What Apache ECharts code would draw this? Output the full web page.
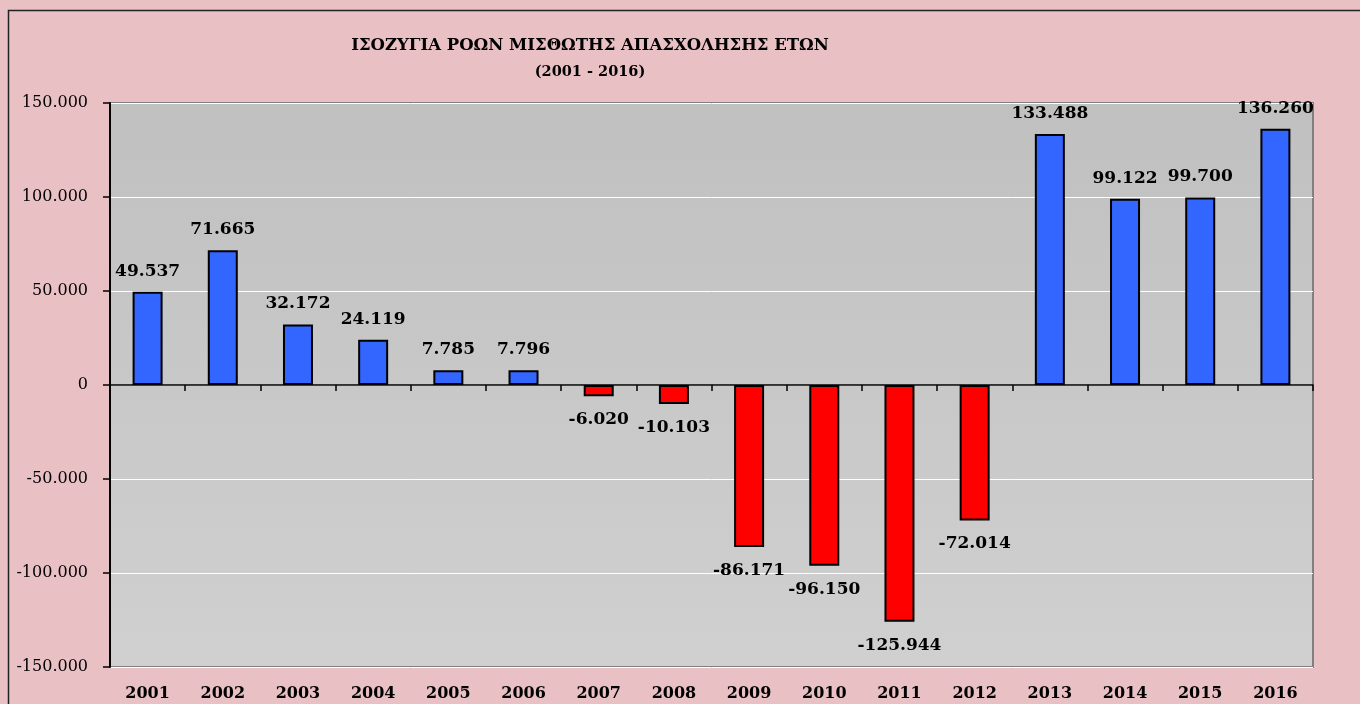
<!DOCTYPE html>
<html>
<head>
<meta charset="utf-8">
<script src="https://cdn.jsdelivr.net/npm/echarts@6/dist/echarts.min.js"></script>
<style>
html,body{margin:0;padding:0;background:#eac3c6;overflow:hidden;}
#chart{width:1360px;height:704px;}
</style>
</head>
<body>
<div id="chart"></div>
<script>
const titleLine1 = 'ΙΣΟΖΥΓΙΑ ΡΟΩΝ ΜΙΣΘΩΤΗΣ ΑΠΑΣΧΟΛΗΣΗΣ ΕΤΩΝ';
const titleLine2 = '(2001 - 2016)';
const years = ['2001','2002','2003','2004','2005','2006','2007','2008','2009','2010','2011','2012','2013','2014','2015','2016'];
const balances = [49537, 71665, 32172, 24119, 7785, 7796, -6020, -10103, -86171, -96150, -125944, -72014, 133488, 99122, 99700, 136260];
const yMin = -150000, yMax = 150000, yStep = 50000;

const BLUE = '#3366ff', RED = '#ff0000';

function fmt(v) {
  const s = Math.abs(v).toString().replace(/\B(?=(\d{3})+(?!\d))/g, '.');
  return (v < 0 ? '-' : '') + s;
}

const chart = echarts.init(document.getElementById('chart'));
chart.setOption({
  backgroundColor: '#e9c0c4',
  animation: false,
  graphic: [
    { type: 'polyline', z: -10, silent: true,
      shape: { points: [[8.5, 800], [8.5, 10.5], [1500, 10.5]] },
      style: { fill: null, stroke: '#222', lineWidth: 1.5 } },
    { type: 'text', x: 590, y: 46, silent: true,
      style: { text: titleLine1, fill: '#000', font: 'bold 16.5px "DejaVu Serif", serif', textAlign: 'center', textVerticalAlign: 'middle' } },
    { type: 'text', x: 590, y: 72, silent: true,
      style: { text: titleLine2, fill: '#000', font: 'bold 14.5px "DejaVu Serif", serif', textAlign: 'center', textVerticalAlign: 'middle' } }
  ],
  grid: {
    left: 110, top: 103, right: 47, bottom: 37,
    show: true,
    borderColor: '#808080', borderWidth: 2,
    backgroundColor: { type: 'linear', x: 0, y: 0, x2: 0, y2: 1,
      colorStops: [{ offset: 0, color: '#c0c0c0' }, { offset: 1, color: '#d0d0d0' }] }
  },
  xAxis: [
    {
      type: 'category', data: years,
      axisLine: { onZero: true, lineStyle: { color: '#000', width: 1.5 } },
      axisTick: { show: true, length: 6, lineStyle: { color: '#000', width: 1.5 } },
      axisLabel: { show: false },
      splitLine: { show: false }
    },
    {
      type: 'category', data: years, position: 'bottom',
      axisLine: { show: false, onZero: false },
      axisTick: { show: false },
      axisLabel: { show: true, margin: 19, color: '#000', fontFamily: '"DejaVu Serif", serif', fontWeight: 'bold', fontSize: 16 },
      splitLine: { show: false }
    }
  ],
  yAxis: {
    type: 'value', min: yMin, max: yMax, interval: yStep,
    axisLine: { show: true, lineStyle: { color: '#000', width: 2 } },
    axisTick: { show: true, length: 7, lineStyle: { color: '#000', width: 1.5 } },
    axisLabel: { color: '#000', fontFamily: '"DejaVu Serif", serif', fontSize: 16, margin: 22, formatter: fmt },
    splitLine: { show: true, lineStyle: { color: '#ffffff', width: 1 } }
  },
  series: [{
    type: 'bar',
    xAxisIndex: 0,
    barWidth: 30,
    data: balances.map(v => ({
      value: v,
      itemStyle: { color: v >= 0 ? BLUE : RED },
      label: { position: v >= 0 ? 'top' : 'bottom', distance: v >= 0 ? 12 : 15 }
    })),
    itemStyle: { borderColor: '#000', borderWidth: 2 },
    label: {
      show: true, color: '#000',
      fontFamily: '"DejaVu Serif", serif', fontWeight: 'bold', fontSize: 17,
      formatter: p => fmt(p.value)
    }
  }]
});
</script>
</body>
</html>
